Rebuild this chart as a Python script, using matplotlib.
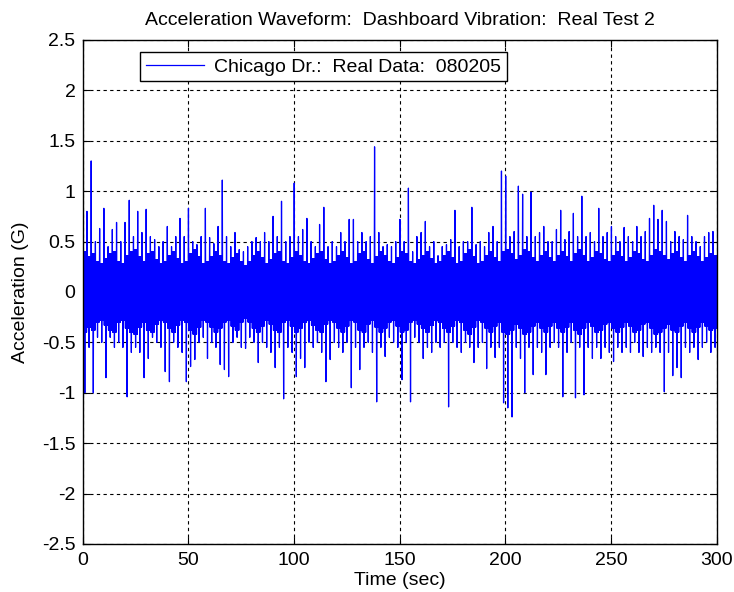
import matplotlib
matplotlib.use("Agg")
import matplotlib.pyplot as plt

# peak readings per 2-second bin (G)
hi = [1.32, 0.80, 1.30, 0.50, 0.63, 0.83, 0.45, 0.62, 0.69, 0.50,
      0.69, 0.91, 0.55, 0.80, 0.59, 0.82, 0.55, 0.52, 0.45, 0.50,
      0.65, 0.45, 0.55, 0.73, 0.55, 0.83, 0.50, 0.47, 0.55, 0.83,
      0.54, 0.48, 0.65, 1.11, 0.55, 0.45, 0.59, 0.42, 0.40, 0.45,
      0.50, 0.54, 0.50, 0.59, 0.50, 0.75, 0.55, 0.90, 0.50, 0.55,
      1.08, 0.55, 0.62, 0.73, 0.50, 0.45, 0.67, 0.84, 0.45, 0.50,
      0.45, 0.59, 0.50, 0.72, 0.72, 0.50, 0.59, 0.50, 0.55, 1.44,
      0.59, 0.45, 0.47, 0.45, 0.50, 0.72, 0.50, 1.03, 0.40, 0.55,
      0.59, 0.70, 0.45, 0.50, 0.36, 0.45, 0.47, 0.52, 0.81, 0.45,
      0.50, 0.50, 0.84, 0.47, 0.50, 0.45, 0.59, 0.65, 0.50, 1.20,
      1.15, 0.55, 0.60, 1.05, 0.97, 0.55, 0.99, 0.55, 0.59, 0.65,
      0.50, 0.50, 0.62, 0.81, 0.52, 0.60, 0.78, 0.55, 0.95, 0.55,
      0.59, 0.50, 0.83, 0.55, 0.59, 0.65, 0.55, 0.50, 0.64, 0.55,
      0.50, 0.65, 0.55, 0.60, 0.73, 0.86, 0.72, 0.81, 0.70, 0.50,
      0.60, 0.55, 0.52, 0.76, 0.55, 0.50, 0.45, 0.55, 0.59, 0.60]

lo = [-1.00, -0.55, -1.00, -0.45, -0.50, -0.85, -0.45, -0.55, -0.50, -0.55,
      -1.04, -0.60, -0.55, -0.60, -0.85, -0.66, -0.45, -0.50, -0.55, -0.79,
      -0.89, -0.50, -0.55, -0.60, -0.89, -0.74, -0.67, -0.50, -0.45, -0.66,
      -0.50, -0.55, -0.72, -0.77, -0.84, -0.50, -0.45, -0.55, -0.56, -0.45,
      -0.50, -0.70, -0.50, -0.55, -0.60, -0.75, -0.55, -1.06, -0.55, -0.60,
      -0.84, -0.66, -0.75, -0.50, -0.55, -0.50, -0.60, -0.89, -0.67, -0.50,
      -0.55, -0.60, -0.50, -0.95, -0.55, -0.77, -0.55, -0.50, -0.60, -1.09,
      -0.55, -0.64, -0.45, -0.50, -0.55, -0.87, -0.50, -1.09, -0.45, -0.50,
      -0.66, -0.55, -0.60, -0.50, -0.55, -0.50, -1.14, -0.50, -0.55, -0.60,
      -0.50, -0.55, -0.70, -0.55, -0.50, -0.76, -0.55, -0.65, -0.55, -1.10,
      -1.15, -1.24, -0.55, -0.66, -1.00, -0.55, -0.82, -0.55, -0.60, -0.82,
      -0.55, -0.50, -0.55, -1.04, -0.60, -0.50, -1.05, -0.55, -1.02, -0.55,
      -0.66, -0.55, -0.66, -0.55, -0.60, -0.69, -0.55, -0.60, -0.55, -0.60,
      -0.50, -0.60, -0.64, -0.55, -0.60, -0.55, -0.60, -0.99, -0.60, -0.83,
      -0.75, -0.85, -0.55, -0.60, -0.55, -0.67, -0.55, -0.50, -0.60, -0.55]

# half-height of the dense band per bin (G)
core = [0.40, 0.35, 0.38, 0.30, 0.28, 0.33, 0.38, 0.40, 0.30, 0.28,
        0.36, 0.40, 0.42, 0.35, 0.30, 0.38, 0.40, 0.32, 0.28, 0.30,
        0.36, 0.40, 0.33, 0.28, 0.30, 0.38, 0.42, 0.35, 0.28, 0.30,
        0.35, 0.40, 0.36, 0.30, 0.28, 0.34, 0.38, 0.30, 0.26, 0.30,
        0.36, 0.40, 0.34, 0.28, 0.32, 0.38, 0.40, 0.30, 0.28, 0.34,
        0.40, 0.36, 0.30, 0.28, 0.33, 0.38, 0.40, 0.32, 0.28, 0.30,
        0.36, 0.40, 0.34, 0.28, 0.30, 0.38, 0.40, 0.32, 0.28, 0.35,
        0.40, 0.36, 0.30, 0.28, 0.34, 0.40, 0.38, 0.30, 0.28, 0.32,
        0.36, 0.40, 0.33, 0.28, 0.30, 0.36, 0.40, 0.34, 0.28, 0.30,
        0.38, 0.42, 0.35, 0.28, 0.30, 0.36, 0.40, 0.34, 0.30, 0.40,
        0.42, 0.38, 0.32, 0.36, 0.42, 0.40, 0.34, 0.30, 0.36, 0.40,
        0.34, 0.30, 0.36, 0.40, 0.35, 0.30, 0.38, 0.42, 0.36, 0.30,
        0.34, 0.40, 0.38, 0.32, 0.30, 0.36, 0.40, 0.35, 0.30, 0.34,
        0.40, 0.38, 0.32, 0.30, 0.36, 0.42, 0.40, 0.36, 0.32, 0.38,
        0.40, 0.34, 0.30, 0.36, 0.40, 0.35, 0.30, 0.34, 0.38, 0.36]

bin_sec = 2.0
xticks = [0, 50, 100, 150, 200, 250, 300]
yticks = [-2.5, -2, -1.5, -1, -0.5, 0, 0.5, 1, 1.5, 2, 2.5]
ylabels = ["-2.5", "-2", "-1.5", "-1", "-0.5", "0", "0.5", "1", "1.5", "2", "2.5"]

# each bin: one up spike, one down spike, dense band in between
t = []
acc = []
for i in range(len(hi)):
    c = core[i]
    vals = [hi[i], -c, c, -c, c, lo[i], c, -c, c, -c]
    for k in range(len(vals)):
        t.append(i * bin_sec + (k + 0.5) * bin_sec / len(vals))
        acc.append(vals[k])

plt.rcParams['font.family'] = ['Liberation Sans', 'DejaVu Sans']
fig = plt.figure(figsize=(7.34, 5.92), dpi=100)
ax = fig.add_axes([0.1124, 0.0811, 0.8644, 0.8514])

ax.plot(t, acc, color=(0, 0, 1), lw=0.9, label="Chicago Dr.:  Real Data:  080205")

ax.set_xlim(0, 300)
ax.set_ylim(-2.5, 2.5)
ax.set_xticks(xticks)
ax.set_xticklabels([str(v) for v in xticks])
ax.set_yticks(yticks)
ax.set_yticklabels(ylabels)
ax.tick_params(direction="in", top=True, right=True, length=5, labelsize=14)
ax.tick_params(axis="x", pad=6)
ax.tick_params(axis="y", pad=5)
ax.grid(True, color="black", linestyle=(0, (3, 3)), lw=0.8)
for s in ax.spines.values():
    s.set_linewidth(1.0)

ax.set_title("Acceleration Waveform:  Dashboard Vibration:  Real Test 2", fontsize=14, pad=11)
ax.set_xlabel("Time (sec)", fontsize=14, labelpad=2)
ax.set_ylabel("Acceleration (G)", fontsize=14, labelpad=9)

leg = ax.legend(loc="upper left", bbox_to_anchor=(0.0906, 0.976), borderaxespad=0,
                fontsize=14, fancybox=False, framealpha=1, edgecolor="black",
                handlelength=3.0, borderpad=0.3, handletextpad=0.5)
leg.get_frame().set_linewidth(1.0)

fig.savefig("out.png", dpi=100)
